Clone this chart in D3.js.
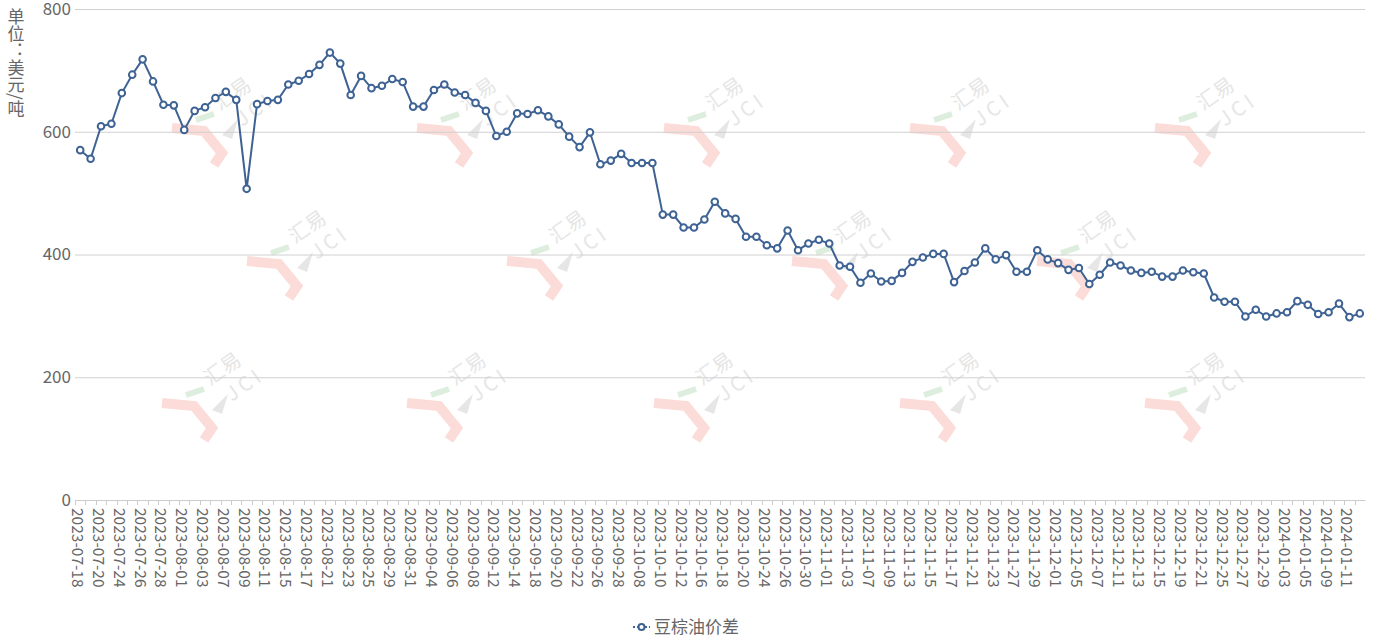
<!DOCTYPE html>
<html>
<head>
<meta charset="utf-8">
<script src="https://cdn.jsdelivr.net/npm/d3@7"></script>
<style>
  html, body { margin: 0; padding: 0; background: #fff; }
  svg { display: block; font-family: "Noto Sans CJK SC", "Noto Sans", sans-serif; }
</style>
</head>
<body>
<svg id="chart"></svg>
<script>
// trading days shown on the category axis
var dates = [
  "2023-07-18","2023-07-19","2023-07-20","2023-07-21","2023-07-24","2023-07-25","2023-07-26","2023-07-27","2023-07-28","2023-07-31",
  "2023-08-01","2023-08-02","2023-08-03","2023-08-04","2023-08-07","2023-08-08","2023-08-09","2023-08-10","2023-08-11","2023-08-14",
  "2023-08-15","2023-08-16","2023-08-17","2023-08-18","2023-08-21","2023-08-22","2023-08-23","2023-08-24","2023-08-25","2023-08-28",
  "2023-08-29","2023-08-30","2023-08-31","2023-09-01","2023-09-04","2023-09-05","2023-09-06","2023-09-07","2023-09-08","2023-09-11",
  "2023-09-12","2023-09-13","2023-09-14","2023-09-15","2023-09-18","2023-09-19","2023-09-20","2023-09-21","2023-09-22","2023-09-25",
  "2023-09-26","2023-09-27","2023-09-28","2023-10-07","2023-10-08","2023-10-09","2023-10-10","2023-10-11","2023-10-12","2023-10-13",
  "2023-10-16","2023-10-17","2023-10-18","2023-10-19","2023-10-20","2023-10-23","2023-10-24","2023-10-25","2023-10-26","2023-10-27",
  "2023-10-30","2023-10-31","2023-11-01","2023-11-02","2023-11-03","2023-11-06","2023-11-07","2023-11-08","2023-11-09","2023-11-10",
  "2023-11-13","2023-11-14","2023-11-15","2023-11-16","2023-11-17","2023-11-20","2023-11-21","2023-11-22","2023-11-23","2023-11-24",
  "2023-11-27","2023-11-28","2023-11-29","2023-11-30","2023-12-01","2023-12-04","2023-12-05","2023-12-06","2023-12-07","2023-12-08",
  "2023-12-11","2023-12-12","2023-12-13","2023-12-14","2023-12-15","2023-12-18","2023-12-19","2023-12-20","2023-12-21","2023-12-22",
  "2023-12-25","2023-12-26","2023-12-27","2023-12-28","2023-12-29","2024-01-02","2024-01-03","2024-01-04","2024-01-05","2024-01-08",
  "2024-01-09","2024-01-10","2024-01-11","2024-01-12"
];

// 豆棕油价差, 美元/吨
var spread = [
  570,556,609,613,663,693,718,682,644,643,
  603,634,640,655,665,652,507,645,650,652,
  677,683,694,709,729,711,660,691,671,675,
  686,681,641,641,668,677,664,660,647,634,
  593,600,630,629,635,625,612,592,575,599,
  547,553,564,549,549,549,465,465,444,444,
  457,486,467,458,429,429,415,410,439,407,
  418,424,418,382,380,354,369,356,357,370,
  388,395,401,401,355,373,387,410,392,399,
  372,372,407,392,386,375,378,352,367,387,
  382,374,370,372,364,364,374,371,369,330,
  323,323,299,310,299,304,306,324,318,303,
  306,320,298,304
];

var yTicks = [0, 200, 400, 600, 800];
var seriesName = "豆棕油价差";
var unitLabel = "单位：美元/吨";

var screen = {width:1375, height:639};
var plot = {left:75, right:1365, top:9, bottom:500};
var color = "#3d6293";
var textColor = "#666";

var svg = d3.select("#chart")
  .attr("width", screen.width)
  .attr("height", screen.height);

var xScale = d3.scaleBand()
  .domain(dates)
  .range([plot.left, plot.right])
  .paddingInner(0)
  .paddingOuter(0);

var yScale = d3.scaleLinear()
  .domain([0, 800])
  .range([plot.bottom, plot.top]);

var cx = function(d) { return xScale(d) + xScale.bandwidth() / 2; };

// watermarks
var marks = [
  [170,125],[415,125],[662,125],[908,125],[1153,125],
  [245,258],[505,258],[790,258],[1035,258],
  [160,400],[405,400],[652,400],[898,400],[1143,400]
];
var wm = svg.append("g").attr("class", "watermarks");
marks.forEach(function(m) {
  var g = wm.append("g").attr("transform", "translate(" + m[0] + "," + m[1] + ")");
  g.append("path")
    .attr("d", "M2,3 L34,6 L52,28 L44,40")
    .attr("fill", "none")
    .attr("stroke", "#fbdcd8")
    .attr("stroke-width", 10)
    .attr("stroke-linejoin", "miter");
  g.append("path")
    .attr("d", "M26,-5 L44,-11")
    .attr("stroke", "#deeede")
    .attr("stroke-width", 6);
  g.append("path")
    .attr("d", "M52,10 L68,-6 L62,14 Z")
    .attr("fill", "#e6e6e6");
  g.append("text")
    .attr("transform", "translate(50,-14) rotate(-35)")
    .attr("font-size", 20)
    .attr("fill", "#e6e6e6")
    .text("汇易");
  g.append("text")
    .attr("transform", "translate(72,2) rotate(-35)")
    .attr("font-size", 20)
    .attr("letter-spacing", 4)
    .attr("fill", "#e6e6e6")
    .text("JCI");
});

// grid lines + y labels
svg.append("g")
  .selectAll("line")
  .data(yTicks.filter(function(t) { return t > 0; }))
  .enter()
  .append("line")
  .attr("x1", plot.left)
  .attr("x2", plot.right)
  .attr("y1", function(t) { return yScale(t) + 0.5; })
  .attr("y2", function(t) { return yScale(t) + 0.5; })
  .attr("stroke", "#d0d0d0")
  .attr("stroke-width", 1);

svg.append("g")
  .selectAll("text")
  .data(yTicks)
  .enter()
  .append("text")
  .attr("x", 71)
  .attr("y", function(t) { return yScale(t); })
  .attr("dy", "0.35em")
  .attr("text-anchor", "end")
  .attr("font-size", 17)
  .attr("fill", textColor)
  .text(function(t) { return t; });

// y axis name, written vertically
svg.append("text")
  .attr("x", 16)
  .attr("y", 8)
  .attr("font-size", 17)
  .attr("fill", textColor)
  .style("writing-mode", "vertical-rl")
  .text(unitLabel);

// x axis
var xAxis = d3.axisBottom(xScale)
  .tickValues(dates.filter(function(d, i) { return i % 2 === 0; }))
  .tickSize(0)
  .tickPadding(0);

var xg = svg.append("g")
  .attr("transform", "translate(0," + plot.bottom + ")")
  .call(xAxis);
xg.select(".domain").attr("stroke", "#ccc");
xg.selectAll(".tick text")
  .attr("font-family", "\"Noto Sans CJK SC\", sans-serif")
  .attr("font-size", 15.5)
  .attr("fill", textColor)
  .attr("text-anchor", "start")
  .attr("dominant-baseline", "central")
  .attr("transform", "translate(-1,8) rotate(90)")
  .attr("x", 0)
  .attr("y", 0)
  .attr("dy", null);

// small ticks on every band boundary
xg.append("g")
  .selectAll("line")
  .data(dates)
  .enter()
  .append("line")
  .attr("x1", function(d) { return Math.round(xScale(d)) + 0.5; })
  .attr("x2", function(d) { return Math.round(xScale(d)) + 0.5; })
  .attr("y1", 0)
  .attr("y2", 5)
  .attr("stroke", "#ccc");

// series line
var line = d3.line()
  .x(function(d, i) { return cx(dates[i]); })
  .y(function(d) { return yScale(d); });

svg.append("path")
  .datum(spread)
  .attr("d", line)
  .attr("fill", "none")
  .attr("stroke", color)
  .attr("stroke-width", 2);

svg.append("g")
  .selectAll("circle")
  .data(spread)
  .enter()
  .append("circle")
  .attr("cx", function(d, i) { return cx(dates[i]); })
  .attr("cy", function(d) { return yScale(d); })
  .attr("r", 3.3)
  .attr("fill", "#fff")
  .attr("stroke", color)
  .attr("stroke-width", 2);

// legend
var lg = svg.append("g").attr("transform", "translate(633,627)");
lg.append("line")
  .attr("x1", 0).attr("x2", 17)
  .attr("stroke", color)
  .attr("stroke-width", 2)
  .attr("stroke-dasharray", "2,2");
lg.append("circle")
  .attr("cx", 8.5).attr("r", 3)
  .attr("fill", "#fff")
  .attr("stroke", color)
  .attr("stroke-width", 2);
lg.append("text")
  .attr("x", 21)
  .attr("dy", "0.35em")
  .attr("font-size", 17)
  .attr("fill", textColor)
  .text(seriesName);
</script>
</body>
</html>
